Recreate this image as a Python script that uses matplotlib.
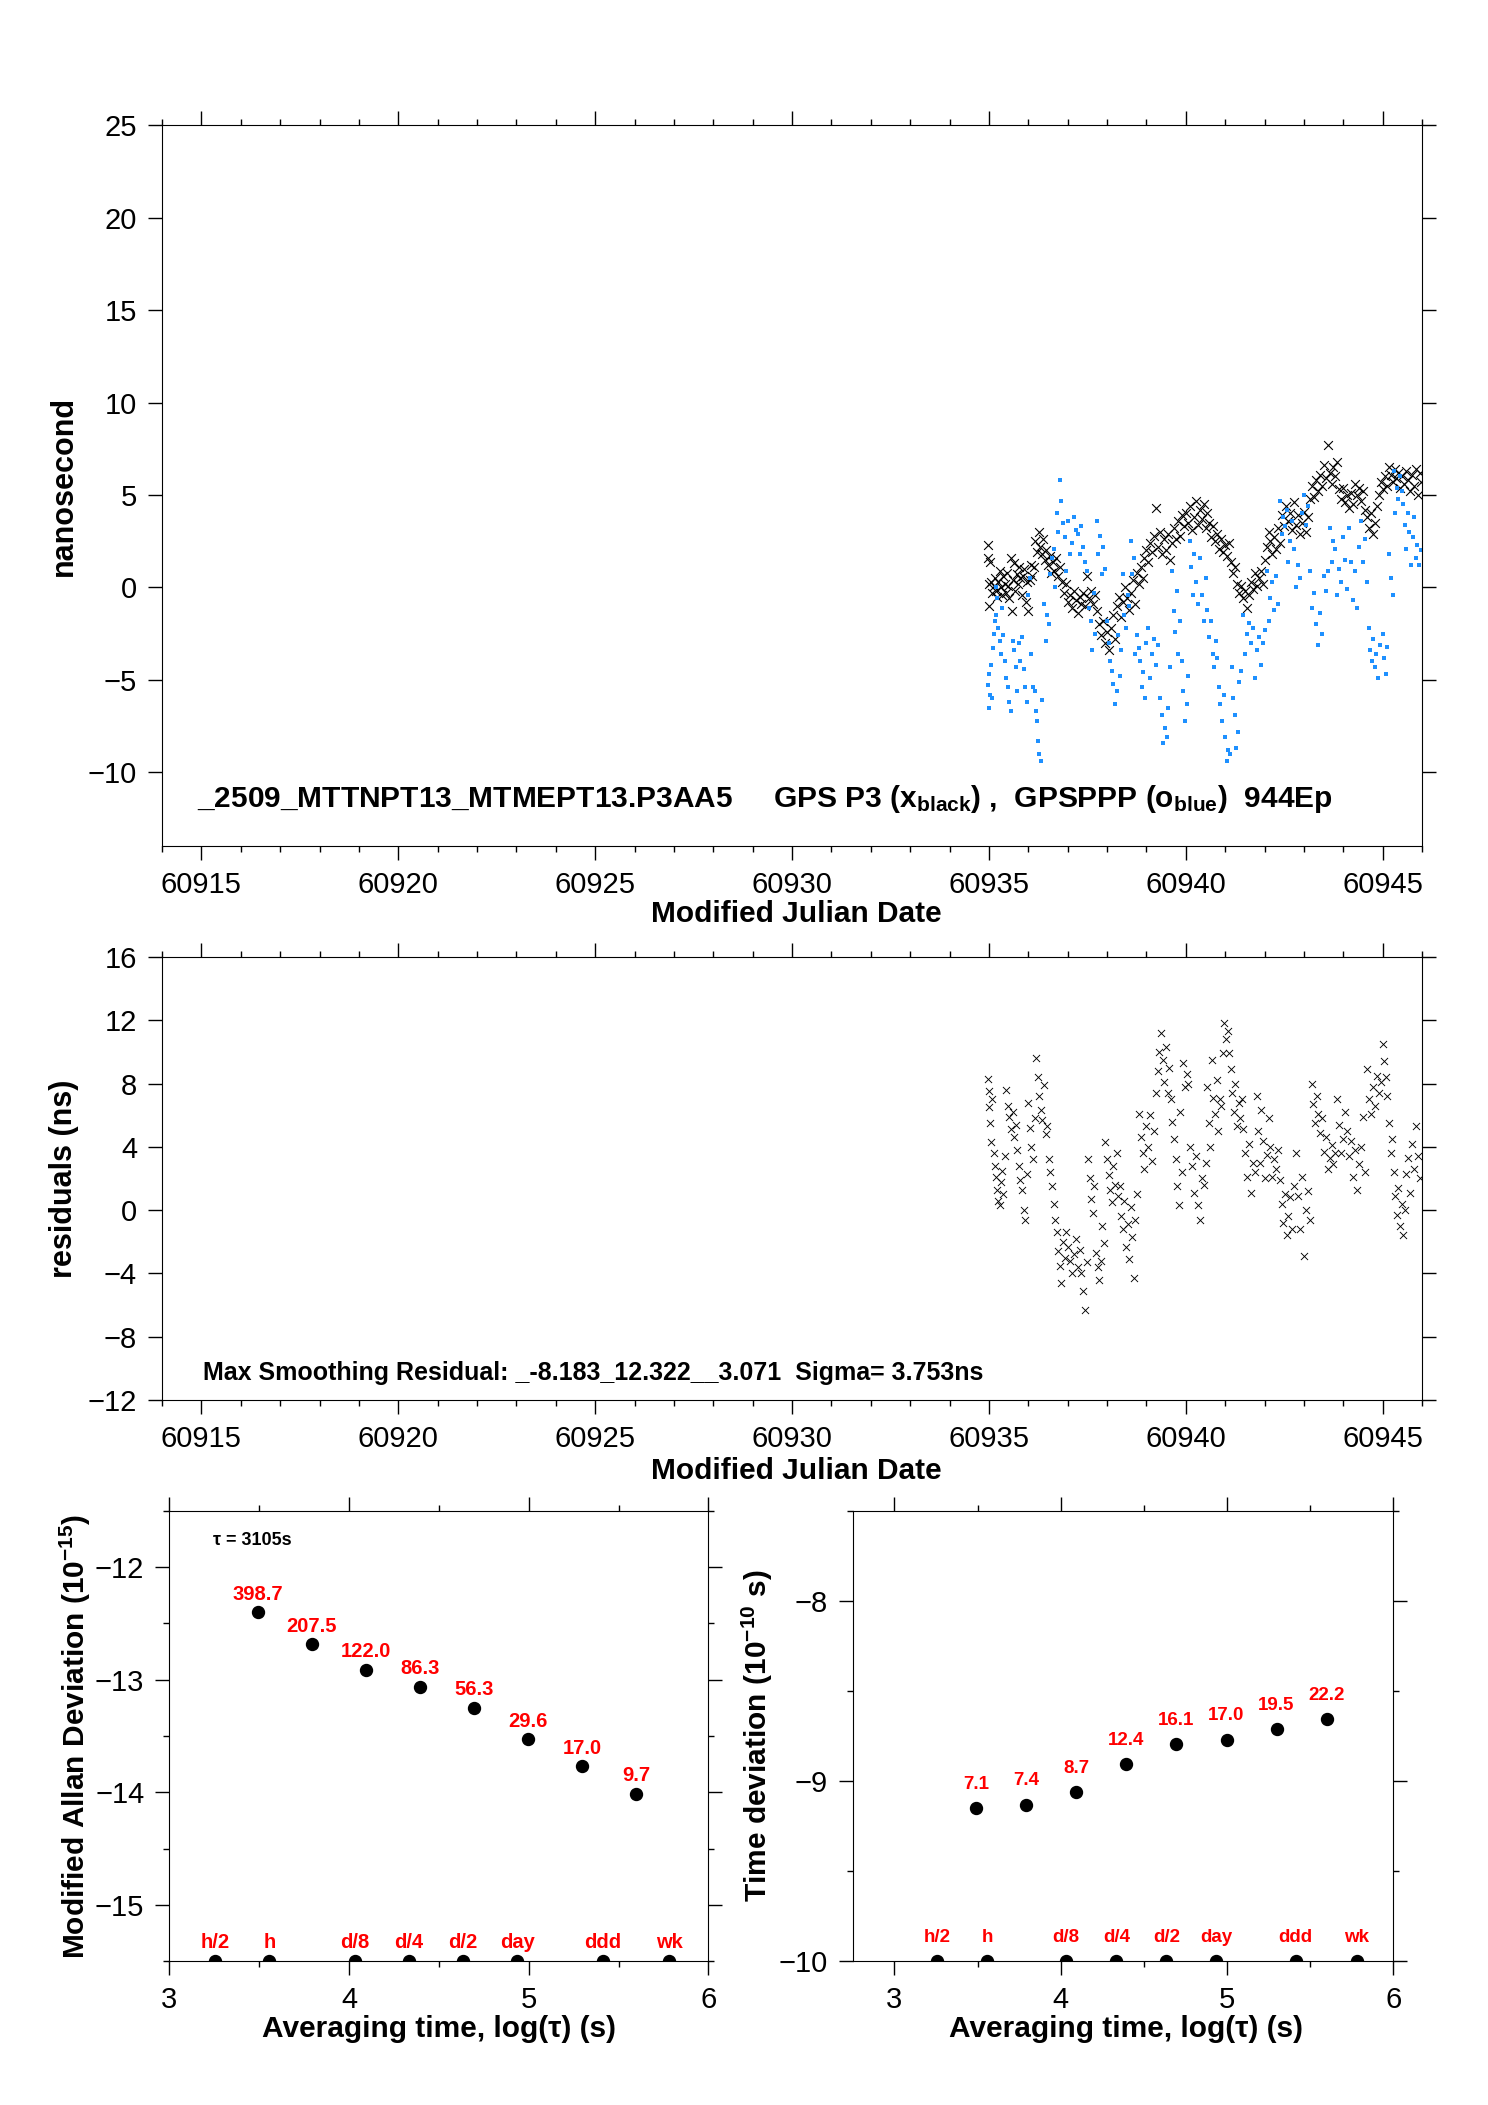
import matplotlib
matplotlib.use('Agg')
import matplotlib.pyplot as plt
from matplotlib.ticker import MultipleLocator
import numpy as np

plt.rcParams['font.family'] = ['Liberation Sans', 'DejaVu Sans']
plt.rcParams['mathtext.fontset'] = 'custom'
plt.rcParams['mathtext.rm'] = 'Liberation Sans'
plt.rcParams['mathtext.bf'] = 'Liberation Sans:bold'
plt.rcParams['mathtext.it'] = 'Liberation Sans:italic'
plt.rcParams['axes.linewidth'] = 0.8

# GPS P3 (black x), MJD and ns
p3_mjd = [60934.98, 60934.98, 60935.00, 60935.01, 60935.03, 60935.06, 60935.09, 60935.12, 60935.15, 60935.18,
          60935.21, 60935.24, 60935.27, 60935.30, 60935.33, 60935.36, 60935.40, 60935.43, 60935.46, 60935.49,
          60935.52, 60935.55, 60935.58, 60935.61, 60935.64, 60935.67, 60935.70, 60935.74, 60935.77, 60935.80,
          60935.83, 60935.86, 60935.90, 60935.93, 60935.96, 60936.00, 60936.03, 60936.06, 60936.10, 60936.14,
          60936.18, 60936.22, 60936.26, 60936.30, 60936.34, 60936.38, 60936.42, 60936.46, 60936.50, 60936.54,
          60936.58, 60936.62, 60936.66, 60936.70, 60936.75, 60936.80, 60936.85, 60936.90, 60936.95, 60937.00,
          60937.05, 60937.10, 60937.15, 60937.20, 60937.25, 60937.30, 60937.35, 60937.40, 60937.45, 60937.50,
          60937.55, 60937.60, 60937.65, 60937.70, 60937.75, 60937.80, 60937.85, 60937.90, 60937.95, 60938.00,
          60938.05, 60938.10, 60938.15, 60938.20, 60938.25, 60938.30, 60938.35, 60938.40, 60938.45, 60938.50,
          60938.55, 60938.60, 60938.65, 60938.70, 60938.75, 60938.80, 60938.85, 60938.90, 60938.95, 60939.00,
          60939.05, 60939.10, 60939.15, 60939.20, 60939.25, 60939.30, 60939.35, 60939.40, 60939.45, 60939.50,
          60939.55, 60939.60, 60939.65, 60939.70, 60939.75, 60939.80, 60939.85, 60939.90, 60939.95, 60940.00,
          60940.05, 60940.10, 60940.15, 60940.20, 60940.25, 60940.30, 60940.35, 60940.40, 60940.45, 60940.50,
          60940.55, 60940.60, 60940.65, 60940.70, 60940.75, 60940.80, 60940.85, 60940.90, 60940.95, 60941.00,
          60941.05, 60941.10, 60941.15, 60941.20, 60941.25, 60941.30, 60941.35, 60941.40, 60941.45, 60941.50,
          60941.55, 60941.60, 60941.65, 60941.70, 60941.75, 60941.80, 60941.85, 60941.90, 60941.95, 60942.00,
          60942.05, 60942.10, 60942.15, 60942.20, 60942.25, 60942.30, 60942.35, 60942.40, 60942.45, 60942.50,
          60942.55, 60942.60, 60942.65, 60942.70, 60942.75, 60942.80, 60942.85, 60942.90, 60942.95, 60943.00,
          60943.05, 60943.10, 60943.15, 60943.20, 60943.25, 60943.30, 60943.35, 60943.40, 60943.45, 60943.50,
          60943.55, 60943.60, 60943.65, 60943.70, 60943.75, 60943.80, 60943.85, 60943.90, 60943.95, 60944.00,
          60944.05, 60944.10, 60944.15, 60944.20, 60944.25, 60944.30, 60944.35, 60944.40, 60944.45, 60944.50,
          60944.55, 60944.60, 60944.65, 60944.70, 60944.75, 60944.80, 60944.85, 60944.90, 60944.95, 60945.00,
          60945.05, 60945.10, 60945.15, 60945.20, 60945.25, 60945.30, 60945.35, 60945.40, 60945.45, 60945.50,
          60945.55, 60945.60, 60945.65, 60945.70, 60945.75, 60945.80, 60945.85, 60945.90, 60945.95, 60945.98]
p3_ns = [2.3, 1.6, 0.2, -1.0, 1.4, 0.3, -0.3, 0.1, 0.5, -0.2,
         -0.5, 0.3, 0.9, 0.0, -0.4, 0.6, 0.2, -0.3, 0.8, 0.1,
         -0.6, 1.6, -1.3, 0.4, 1.3, -0.2, 0.7, 0.2, 1.1, 0.5,
         -0.4, 0.6, 1.0, -0.8, 0.3, -1.3, 0.4, 1.2, 0.6, 1.1,
         2.5, 1.9, 3.0, 2.2, 1.8, 2.6, 1.5, 2.0, 1.2, 1.7,
         0.8, 1.4, 0.9, 1.6, 0.6, 1.1, 0.3, -0.3, 0.2, -0.8,
         -0.4, -1.1, -0.2, -0.7, -1.4, -0.5, -0.9, -0.3, -1.0, 0.6,
         -0.6, -0.2, -0.9, -0.4, -1.3, -2.0, -2.6, -1.8, -3.0, -2.4,
         -3.4, -2.2, -1.5, -2.8, -1.0, -0.5, -1.6, -0.8, 0.0, -0.6,
         -1.2, -0.3, 0.4, -0.9, 0.8, 0.2, 1.1, 0.5, 1.6, 2.0,
         1.4, 2.4, 1.9, 2.8, 4.3, 2.2, 3.0, 1.8, 2.6, 2.0,
         2.9, 1.5, 2.4, 3.2, 2.6, 3.6, 2.8, 3.9, 3.3, 4.0,
         3.5, 4.4, 3.1, 3.8, 4.7, 3.4, 4.2, 3.7, 4.5, 3.2,
         4.0, 3.5, 2.7, 3.3, 2.5, 2.9, 2.1, 2.6, 1.9, 2.3,
         1.7, 2.4, 1.4, 0.8, 1.1, 0.2, -0.3, 0.1, -0.6, -0.2,
         -1.1, -0.4, 0.3, -0.1, 0.8, 0.1, 0.5, 0.9, 0.2, 1.5,
         2.2, 3.0, 2.5, 1.8, 2.7, 2.1, 3.2, 2.4, 3.9, 3.3,
         4.4, 3.6, 4.0, 3.1, 4.6, 3.4, 3.9, 2.9, 3.5, 4.1,
         3.0, 3.8, 4.8, 5.5, 4.9, 5.8, 5.2, 6.1, 5.5, 6.6,
         5.9, 7.7, 6.2, 5.6, 6.5, 6.0, 6.8, 5.3, 4.8, 5.4,
         4.6, 5.0, 4.3, 5.1, 4.5, 5.6, 5.0, 5.4, 4.7, 5.2,
         4.2, 3.8, 3.2, 4.0, 2.9, 3.5, 4.4, 5.0, 5.7, 5.3,
         6.0, 5.5, 6.5, 6.1, 5.7, 6.4, 5.9, 6.2, 5.4, 6.0,
         5.6, 6.3, 5.8, 5.2, 6.1, 5.5, 6.4, 5.0, 6.2, 5.7]

# GPSPPP (blue o), MJD and ns
ppp_mjd = [60934.97, 60934.99, 60935.01, 60935.03, 60935.05, 60935.08, 60935.11, 60935.13, 60935.15, 60935.17,
           60935.19, 60935.21, 60935.24, 60935.27, 60935.30, 60935.33, 60935.36, 60935.40, 60935.44, 60935.48,
           60935.52, 60935.56, 60935.60, 60935.64, 60935.68, 60935.72, 60935.76, 60935.80, 60935.84, 60935.88,
           60935.92, 60935.96, 60936.00, 60936.04, 60936.08, 60936.12, 60936.16, 60936.19, 60936.22, 60936.25,
           60936.28, 60936.31, 60936.35, 60936.40, 60936.44, 60936.48, 60936.52, 60936.56, 60936.60, 60936.64,
           60936.68, 60936.72, 60936.76, 60936.80, 60936.84, 60936.88, 60936.92, 60936.96, 60937.00, 60937.05,
           60937.10, 60937.15, 60937.20, 60937.25, 60937.30, 60937.35, 60937.40, 60937.45, 60937.50, 60937.54,
           60937.58, 60937.62, 60937.66, 60937.70, 60937.74, 60937.78, 60937.82, 60937.86, 60937.90, 60937.95,
           60938.00, 60938.04, 60938.08, 60938.12, 60938.16, 60938.20, 60938.24, 60938.28, 60938.32, 60938.36,
           60938.40, 60938.44, 60938.48, 60938.52, 60938.56, 60938.60, 60938.64, 60938.68, 60938.72, 60938.76,
           60938.80, 60938.84, 60938.88, 60938.92, 60938.96, 60939.00, 60939.05, 60939.10, 60939.15, 60939.20,
           60939.25, 60939.30, 60939.35, 60939.39, 60939.43, 60939.47, 60939.51, 60939.55, 60939.60, 60939.65,
           60939.69, 60939.73, 60939.77, 60939.81, 60939.85, 60939.90, 60939.94, 60939.98, 60940.02, 60940.06,
           60940.10, 60940.14, 60940.18, 60940.22, 60940.26, 60940.30, 60940.35, 60940.40, 60940.45, 60940.50,
           60940.55, 60940.60, 60940.64, 60940.68, 60940.72, 60940.76, 60940.80, 60940.84, 60940.88, 60940.92,
           60940.96, 60941.00, 60941.04, 60941.08, 60941.12, 60941.16, 60941.20, 60941.24, 60941.28, 60941.32,
           60941.36, 60941.40, 60941.45, 60941.50, 60941.55, 60941.60, 60941.65, 60941.70, 60941.75, 60941.80,
           60941.85, 60941.90, 60941.95, 60942.00, 60942.05, 60942.10, 60942.15, 60942.20, 60942.25, 60942.30,
           60942.35, 60942.40, 60942.44, 60942.48, 60942.52, 60942.56, 60942.60, 60942.65, 60942.70, 60942.75,
           60942.80, 60942.85, 60942.90, 60942.95, 60943.00, 60943.05, 60943.10, 60943.15, 60943.20, 60943.25,
           60943.30, 60943.35, 60943.40, 60943.45, 60943.50, 60943.55, 60943.60, 60943.65, 60943.70, 60943.75,
           60943.80, 60943.85, 60943.90, 60943.95, 60944.00, 60944.05, 60944.10, 60944.15, 60944.20, 60944.25,
           60944.30, 60944.35, 60944.40, 60944.45, 60944.50, 60944.55, 60944.60, 60944.64, 60944.68, 60944.72,
           60944.76, 60944.80, 60944.84, 60944.88, 60944.92, 60945.00, 60945.04, 60945.08, 60945.12, 60945.17,
           60945.21, 60945.25, 60945.28, 60945.32, 60945.36, 60945.40, 60945.44, 60945.48, 60945.52, 60945.56,
           60945.60, 60945.64, 60945.68, 60945.72, 60945.76, 60945.80, 60945.84, 60945.88, 60945.92, 60945.96]
ppp_ns = [-5.3, -6.5, -4.7, -5.8, -4.2, -6.0, -3.3, -2.5, -1.8, -1.5,
          0.0, -0.6, -2.2, -2.9, -3.6, -1.1, -2.6, -4.0, -4.9, -5.4,
          -6.2, -6.7, -2.9, -3.4, -4.3, -5.6, -3.0, -4.0, -2.7, -4.4,
          -5.4, -6.2, -0.4, 0.5, -3.6, -5.4, -5.6, -6.7, -7.2, -8.3,
          -9.0, -9.4, -6.1, -0.9, -2.9, -1.5, -2.0, 0.7, 1.6, 2.1,
          0.0, 4.0, 3.0, 5.8, 4.7, 3.5, 2.7, 0.9, 3.6, 1.8,
          2.4, 3.8, 3.1, 2.9, 1.8, 3.3, 2.2, 1.4, 0.9, -1.1,
          -1.8, -3.4, -0.3, -2.5, 3.6, 1.8, 2.8, 0.7, 2.2, 1.0,
          -1.8, -3.0, -4.0, -4.5, -5.2, -6.3, -5.6, -2.6, -4.8, -3.4,
          0.7, -1.5, -2.2, -0.4, -1.0, 2.5, 0.7, 1.6, -3.6, -2.6,
          -3.3, -4.0, -5.4, -4.6, -6.0, -3.0, -2.2, -4.9, -3.6, -2.8,
          -4.2, -3.1, -6.0, -6.9, -8.4, -7.6, -8.1, -6.5, -4.3, 0.9,
          -1.3, -2.4, -0.2, -3.6, -1.8, -4.0, -5.6, -7.2, -6.3, -4.8,
          2.5, 1.1, -0.4, 1.8, 0.3, -0.9, 1.6, -0.4, -1.8, 0.5,
          -1.2, -2.7, -1.8, -3.6, -4.3, -2.9, -3.8, -5.4, -6.3, -7.2,
          -5.8, -8.1, -9.4, -8.8, -9.0, -4.3, -6.0, -6.9, -8.7, -7.8,
          -5.1, -4.5, -1.5, -3.6, -2.5, -1.9, -3.0, -2.2, -4.9, -3.4,
          -2.7, -4.2, -3.0, -2.3, 0.9, -1.8, -0.6, 0.3, -1.2, 0.6,
          -0.9, 4.7, 2.9, 3.8, 3.3, 4.2, 1.4, 2.5, 3.6, 2.1,
          0.0, 1.2, 0.5, 4.0, 5.0, 3.4, 4.4, 0.9, -1.1, -0.3,
          -2.0, -3.1, -1.4, -2.5, 0.6, -0.2, 0.9, 3.2, 1.4, 2.5,
          2.1, -0.4, 1.0, 0.3, 2.7, 1.5, -0.1, 3.2, 1.4, -0.7,
          0.9, -1.1, 2.2, 3.6, 1.4, 2.6, 0.3, -2.2, -3.4, -4.0,
          -2.8, -4.3, -3.6, -4.9, -3.1, -2.5, -3.8, -4.7, -3.2, 1.8,
          0.5, -0.4, 6.3, 4.0, 5.4, 4.8, 6.0, 5.2, 4.5, 3.4,
          2.1, 4.0, 3.0, 1.2, 2.7, 3.8, 1.6, 2.3, 1.2, 2.0]

# smoothing residuals, MJD and ns
res_mjd = [60934.97, 60934.99, 60935.01, 60935.03, 60935.06, 60935.09, 60935.12, 60935.15, 60935.18, 60935.21,
           60935.24, 60935.27, 60935.30, 60935.33, 60935.36, 60935.40, 60935.44, 60935.48, 60935.52, 60935.56,
           60935.60, 60935.64, 60935.68, 60935.72, 60935.76, 60935.80, 60935.84, 60935.88, 60935.92, 60935.96,
           60936.00, 60936.04, 60936.08, 60936.12, 60936.16, 60936.20, 60936.24, 60936.28, 60936.32, 60936.36,
           60936.40, 60936.44, 60936.48, 60936.52, 60936.56, 60936.60, 60936.64, 60936.68, 60936.72, 60936.76,
           60936.80, 60936.84, 60936.88, 60936.92, 60936.96, 60937.00, 60937.05, 60937.10, 60937.15, 60937.20,
           60937.25, 60937.30, 60937.35, 60937.40, 60937.44, 60937.48, 60937.52, 60937.56, 60937.60, 60937.64,
           60937.68, 60937.72, 60937.76, 60937.80, 60937.84, 60937.88, 60937.92, 60937.96, 60938.00, 60938.04,
           60938.08, 60938.12, 60938.16, 60938.20, 60938.24, 60938.28, 60938.32, 60938.36, 60938.40, 60938.44,
           60938.48, 60938.52, 60938.56, 60938.60, 60938.64, 60938.68, 60938.72, 60938.76, 60938.80, 60938.85,
           60938.90, 60938.95, 60939.00, 60939.05, 60939.10, 60939.15, 60939.20, 60939.25, 60939.29, 60939.33,
           60939.37, 60939.41, 60939.45, 60939.50, 60939.54, 60939.58, 60939.62, 60939.66, 60939.70, 60939.74,
           60939.78, 60939.82, 60939.86, 60939.90, 60939.94, 60939.98, 60940.02, 60940.06, 60940.10, 60940.15,
           60940.20, 60940.25, 60940.30, 60940.35, 60940.40, 60940.45, 60940.50, 60940.54, 60940.58, 60940.62,
           60940.66, 60940.70, 60940.74, 60940.78, 60940.82, 60940.86, 60940.90, 60940.94, 60940.98, 60941.02,
           60941.06, 60941.10, 60941.14, 60941.18, 60941.22, 60941.26, 60941.30, 60941.34, 60941.38, 60941.42,
           60941.46, 60941.50, 60941.55, 60941.60, 60941.65, 60941.70, 60941.75, 60941.80, 60941.84, 60941.88,
           60941.92, 60941.96, 60942.00, 60942.05, 60942.10, 60942.15, 60942.20, 60942.25, 60942.30, 60942.35,
           60942.40, 60942.44, 60942.48, 60942.52, 60942.56, 60942.60, 60942.65, 60942.70, 60942.75, 60942.80,
           60942.85, 60942.90, 60942.95, 60943.00, 60943.05, 60943.10, 60943.15, 60943.20, 60943.24, 60943.28,
           60943.32, 60943.36, 60943.40, 60943.45, 60943.50, 60943.55, 60943.60, 60943.65, 60943.70, 60943.75,
           60943.80, 60943.85, 60943.90, 60943.95, 60944.00, 60944.05, 60944.10, 60944.15, 60944.20, 60944.25,
           60944.30, 60944.35, 60944.40, 60944.45, 60944.50, 60944.55, 60944.60, 60944.65, 60944.70, 60944.75,
           60944.80, 60944.85, 60944.90, 60944.95, 60945.00, 60945.04, 60945.08, 60945.12, 60945.16, 60945.20,
           60945.24, 60945.28, 60945.32, 60945.36, 60945.40, 60945.44, 60945.48, 60945.52, 60945.56, 60945.60,
           60945.65, 60945.70, 60945.75, 60945.80, 60945.85, 60945.90, 60945.94]
res_ns = [8.3, 7.5, 6.5, 5.5, 4.3, 7.0, 3.6, 2.8, 2.1, 1.3,
          0.6, 0.3, 1.8, 2.5, 1.0, 3.4, 7.6, 6.6, 5.9, 5.1,
          6.2, 4.6, 5.4, 3.8, 2.8, 1.9, 1.3, 0.0, -0.6, 2.3,
          6.8, 5.2, 4.0, 3.2, 5.8, 9.6, 8.4, 7.2, 6.3, 5.7,
          7.9, 4.8, 5.3, 3.2, 2.4, 1.5, 0.4, -0.6, -1.4, -2.6,
          -3.5, -4.6, -2.0, -3.0, -1.4, -2.3, -3.2, -4.0, -2.8, -1.8,
          -3.6, -2.5, -4.0, -5.1, -6.3, -3.3, 3.2, 2.0, 0.7, -0.2,
          1.5, -2.7, -3.6, -4.4, -3.2, -1.0, -2.1, 4.3, 3.2, 2.2,
          1.3, 0.5, 2.8, 1.6, 3.6, 0.9, 1.5, -0.4, -1.2, 0.6,
          -2.3, -0.9, -3.1, 0.2, -1.7, -4.3, -0.6, 1.0, 6.1, 4.6,
          3.6, 2.6, 5.3, 4.0, 6.0, 3.1, 5.0, 7.4, 8.8, 10.0,
          11.2, 9.5, 8.1, 10.3, 7.4, 9.0, 7.0, 5.6, 4.5, 3.2,
          1.5, 0.3, 6.2, 2.4, 9.3, 7.8, 8.6, 8.0, 4.0, 2.8,
          1.1, 3.4, 0.3, -0.6, 2.0, 1.6, 3.0, 7.8, 5.5, 4.0,
          9.5, 7.1, 6.1, 8.2, 5.0, 7.0, 6.6, 9.9, 11.8, 10.8,
          11.3, 9.9, 8.9, 7.4, 6.2, 8.0, 5.3, 6.8, 5.8, 7.0,
          5.1, 3.6, 2.1, 4.2, 1.1, 3.0, 2.4, 7.2, 5.0, 3.0,
          6.3, 4.4, 2.0, 3.5, 5.8, 4.0, 2.1, 3.2, 2.6, 3.8,
          1.9, 0.4, -0.8, 1.0, -1.6, -0.4, 0.8, -1.2, 1.5, 3.6,
          0.9, -1.2, 2.1, -2.9, 0.0, 1.2, -0.6, 8.0, 6.7, 5.5,
          7.2, 6.1, 4.9, 5.8, 3.7, 4.6, 2.6, 3.3, 4.1, 2.9,
          3.6, 7.0, 5.4, 3.6, 4.5, 6.2, 5.0, 3.4, 4.4, 2.1,
          3.8, 1.3, 2.9, 4.0, 5.9, 2.4, 8.9, 7.0, 6.1, 7.8,
          6.6, 8.5, 7.4, 8.1, 10.5, 9.4, 8.4, 7.2, 5.5, 3.6,
          4.5, 2.4, 0.9, -0.3, 1.4, -1.0, 0.4, -1.6, 0.0, 2.3,
          3.3, 1.1, 4.2, 2.6, 5.3, 3.4, 2.0]

mjd_ticks = [60915, 60920, 60925, 60930, 60935, 60940, 60945]

# stability
tau_s = [3105, 6210, 12420, 24840, 49680, 99360, 198720, 397440]
mdev_e15 = [398.7, 207.5, 122.0, 86.3, 56.3, 29.6, 17.0, 9.7]
tdev_e10 = [7.1, 7.4, 8.7, 12.4, 16.1, 17.0, 19.5, 22.2]
mark_labels = ['h/2', 'h', 'd/8', 'd/4', 'd/2', 'day', 'ddd', 'wk']
mark_s = [1800, 3600, 10800, 21600, 43200, 86400, 259200, 604800]

top_note = (r'_2509_MTTNPT13_MTMEPT13.P3AA5     GPS P3 (x$_{\mathbf{black}}$) ,  '
            r'GPSPPP (o$_{\mathbf{blue}}$)  944Ep')
mid_note = 'Max Smoothing Residual: _-8.183_12.322__3.071  Sigma= 3.753ns'


def style(ax, xsize=21, ysize=21):
    ax.tick_params(which='both', direction='out', top=True, right=True, width=1.0)
    ax.tick_params(which='major', length=10, pad=8)
    ax.tick_params(which='minor', length=4.5)
    ax.tick_params(axis='x', labelsize=xsize)
    ax.tick_params(axis='y', labelsize=ysize)


fig = plt.figure(figsize=(14.88, 21.05), dpi=100)

# top: time series
ax1 = fig.add_axes([0.1089, 0.598, 0.8468, 0.3425])
ax1.scatter(p3_mjd, p3_ns, marker='x', s=40, c='black', linewidths=0.8)
ax1.scatter(ppp_mjd, ppp_ns, marker='s', s=8, c='#1E90FF', linewidths=0)
ax1.set_xlim(60914, 60946)
ax1.set_ylim(-14, 25)
ax1.set_xticks(mjd_ticks)
ax1.set_xticklabels([str(t) for t in mjd_ticks])
ax1.xaxis.set_minor_locator(MultipleLocator(1))
ax1.set_yticks([-10, -5, 0, 5, 10, 15, 20, 25])
style(ax1)
ax1.set_ylabel('nanosecond', fontsize=22, fontweight='bold')
ax1.yaxis.set_label_coords(-0.066, 0.5)
ax1.set_xlabel('Modified Julian Date', fontsize=21.5, fontweight='bold')
ax1.xaxis.set_label_coords(0.503, -0.074)
ax1.text(60914.9, -11.9, top_note, fontsize=21.5, fontweight='bold', ha='left', va='baseline')

# middle: residuals
ax2 = fig.add_axes([0.1089, 0.3349, 0.8468, 0.2105])
ax2.scatter(res_mjd, res_ns, marker='x', s=26, c='black', linewidths=0.65)
ax2.set_xlim(60914, 60946)
ax2.set_ylim(-12, 16)
ax2.set_xticks(mjd_ticks)
ax2.set_xticklabels([str(t) for t in mjd_ticks])
ax2.xaxis.set_minor_locator(MultipleLocator(1))
ax2.set_yticks([-12, -8, -4, 0, 4, 8, 12, 16])
style(ax2)
ax2.set_ylabel('residuals (ns)', fontsize=22, fontweight='bold')
ax2.yaxis.set_label_coords(-0.066, 0.5)
ax2.set_xlabel('Modified Julian Date', fontsize=21.5, fontweight='bold')
ax2.xaxis.set_label_coords(0.503, -0.128)
ax2.text(60915.04, -10.74, mid_note, fontsize=18, fontweight='bold', ha='left', va='baseline')

logtau = np.log10(tau_s)
logmark = np.log10(mark_s)


def stab_panel(ax, vals, scale, xlim, ylim, lab_size, lab_off):
    y = np.log10(np.array(vals) * scale)
    ax.plot(logtau, y, 'o', color='black', ms=8.6)
    for xv, yv, v in zip(logtau, y, vals):
        ax.annotate('%.1f' % v, (xv, yv), xytext=(0, lab_off), textcoords='offset points',
                    ha='center', va='center', color='red', fontsize=lab_size, fontweight='bold')
    ax.plot(logmark, [ylim[0]] * len(logmark), 'o', color='black', ms=8.6)
    for xv, t in zip(logmark, mark_labels):
        ax.annotate(t, (xv, ylim[0]), xytext=(0, lab_off), textcoords='offset points',
                    ha='center', va='center', color='red', fontsize=lab_size, fontweight='bold')
    ax.set_xlim(*xlim)
    ax.set_ylim(*ylim)
    ax.set_xticks([3, 4, 5, 6])
    ax.xaxis.set_minor_locator(MultipleLocator(0.5))
    ax.yaxis.set_minor_locator(MultipleLocator(0.5))
    style(ax, xsize=21, ysize=21)
    ax.set_xlabel('Averaging time, log(τ) (s)', fontsize=21.5, fontweight='bold')


ax3 = fig.add_axes([0.1138, 0.0684, 0.3623, 0.2138])
stab_panel(ax3, mdev_e15, 1e-15, (3, 6), (-15.5, -11.5), 14.5, 13)
ax3.set_yticks([-15, -14, -13, -12])
ax3.set_ylabel(r'Modified Allan Deviation (10$^{\mathbf{-15}}$)', fontsize=21.5, fontweight='bold')
ax3.yaxis.set_label_coords(-0.141, 0.5)
ax3.xaxis.set_label_coords(0.50, -0.12)
ax3.text(3.243, -11.76, 'τ = 3105s', fontsize=13, fontweight='bold', ha='left', va='center')

ax4 = fig.add_axes([0.5732, 0.0684, 0.3631, 0.2138])
stab_panel(ax4, tdev_e10, 1e-10, (2.75, 6), (-10, -7.5), 13.5, 17)
ax4.set_yticks([-10, -9, -8])
ax4.set_ylabel(r'Time deviation (10$^{\mathbf{-10}}$ s)', fontsize=21.5, fontweight='bold')
ax4.yaxis.set_label_coords(-0.144, 0.5)
ax4.xaxis.set_label_coords(0.505, -0.12)

fig.savefig('out.png', dpi=100)
